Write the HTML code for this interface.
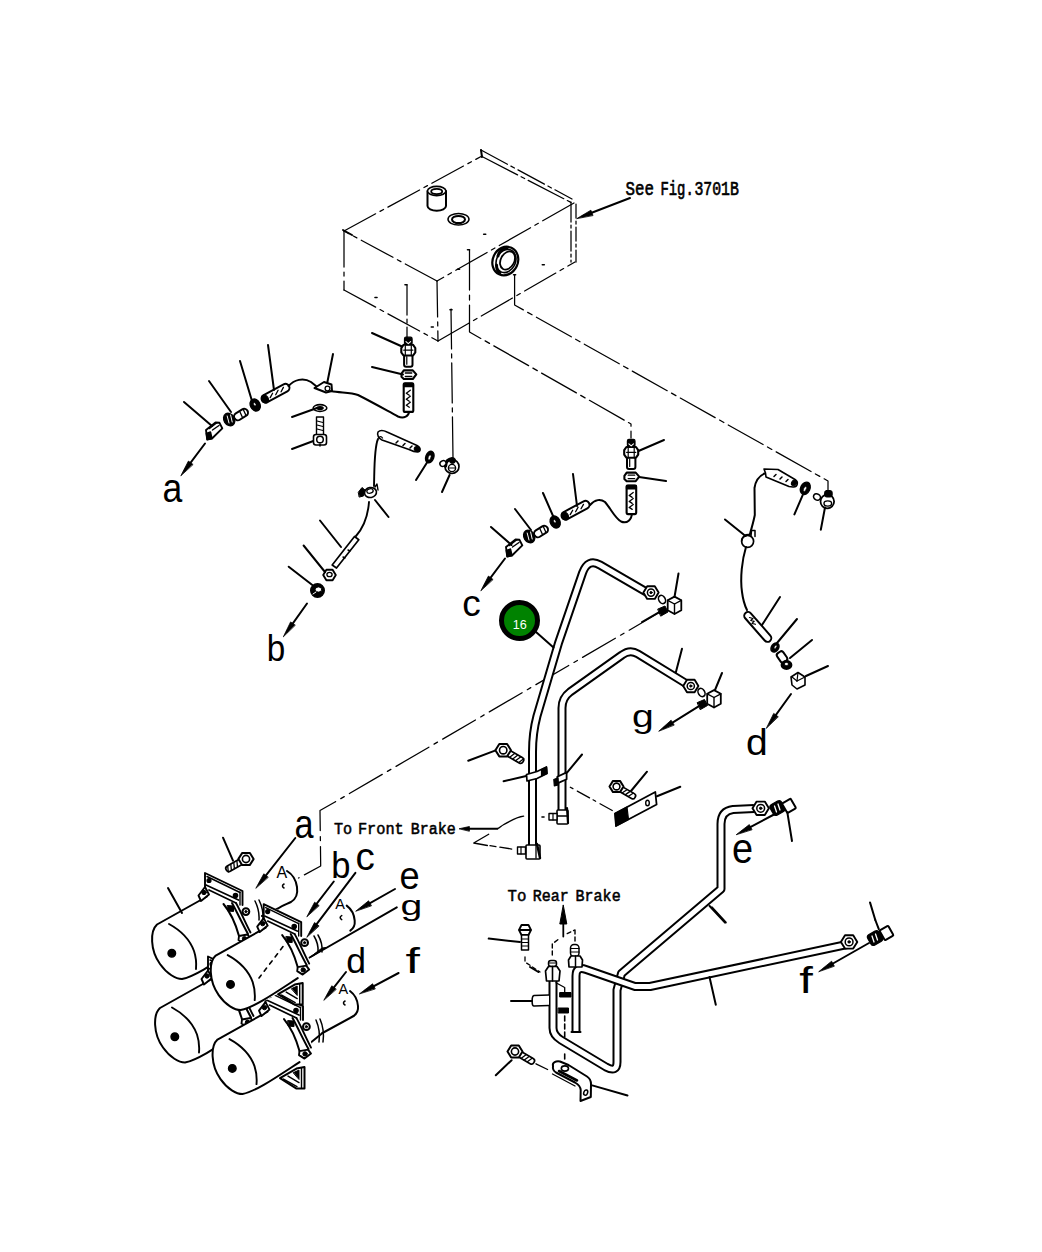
<!DOCTYPE html>
<html><head><meta charset="utf-8"><title>Parts diagram</title>
<style>
html,body{margin:0;padding:0;background:#fff;}
body{width:1042px;height:1252px;overflow:hidden;font-family:"Liberation Sans",sans-serif;}
svg{display:block;}
</style></head><body>
<svg width="1042" height="1252" viewBox="0 0 1042 1252">
<rect width="1042" height="1252" fill="#fff"/>
<g stroke="#000" fill="none" stroke-linecap="round" stroke-linejoin="round">
<polyline points="344,231 482,156" stroke-width="1.25" stroke-dasharray="36 5 4 5"/>
<polyline points="481,150 572,199" stroke-width="1.25" stroke-dasharray="30 4 4 4"/>
<polyline points="482,156.5 574,204" stroke-width="1.25" stroke-dasharray="40 4 4 4"/>
<line x1="481" y1="150" x2="482" y2="157" stroke-width="2.0"/>
<polyline points="574,203 437,281" stroke-width="1.25" stroke-dasharray="36 5 4 5"/>
<polyline points="437,281 344,231" stroke-width="1.25" stroke-dasharray="36 5 4 5"/>
<line x1="343" y1="230" x2="352" y2="235" stroke-width="2.0"/>
<polyline points="344,231 344,290" stroke-width="1.25" stroke-dasharray="36 5 4 5"/>
<polyline points="437,281 438,341" stroke-width="1.25" stroke-dasharray="36 5 4 5"/>
<polyline points="571,202 571,262" stroke-width="1.25" stroke-dasharray="20 3 3 3"/>
<polyline points="576,204 576,262" stroke-width="1.25" stroke-dasharray="14 3 3 3"/>
<polyline points="344,290 438,341" stroke-width="1.25" stroke-dasharray="36 5 4 5"/>
<polyline points="438,341 575,262" stroke-width="1.25" stroke-dasharray="36 5 4 5"/>
<path d="M427.5,191 L427.5,206 A9.2,4.6 0 0 0 446,206 L446,191" fill="#fff" stroke-width="2.0" />
<ellipse cx="436.7" cy="191" rx="9.2" ry="4.6" transform="rotate(0 436.7 191)" fill="#fff" stroke-width="1.6"/>
<ellipse cx="436.7" cy="191.5" rx="5.5" ry="2.6" transform="rotate(0 436.7 191.5)" fill="none" stroke-width="1.8"/>
<ellipse cx="458.5" cy="219.3" rx="10.5" ry="5.8" transform="rotate(0 458.5 219.3)" fill="none" stroke-width="1.5"/>
<ellipse cx="458.5" cy="219.5" rx="6.5" ry="3.6" transform="rotate(0 458.5 219.5)" fill="none" stroke-width="2"/>
<ellipse cx="505.3" cy="261" rx="12.6" ry="14.6" transform="rotate(25 505.3 261)" fill="#fff" stroke-width="2.2"/>
<ellipse cx="506" cy="261" rx="9.5" ry="12" transform="rotate(25 506 261)" fill="none" stroke-width="1.6"/>
<ellipse cx="507.5" cy="260.5" rx="6.8" ry="9.6" transform="rotate(28 507.5 260.5)" fill="none" stroke-width="1.8"/>
<path d="M498,256 C499,251 503,248 507,248.5" fill="none" stroke-width="3" />
<path d="M496.5,265 C496.5,269 498,271.5 500,272.5" fill="none" stroke-width="3" />
<line x1="483.7" y1="234.3" x2="485.7" y2="234.3" stroke-width="1.6"/>
<line x1="467.5" y1="249.8" x2="469.5" y2="249.8" stroke-width="1.6"/>
<line x1="457.5" y1="269.2" x2="459.5" y2="269.2" stroke-width="1.6"/>
<line x1="542.3" y1="264.7" x2="544.3" y2="264.7" stroke-width="1.6"/>
<line x1="513.6" y1="274.7" x2="515.6" y2="274.7" stroke-width="1.6"/>
<line x1="405" y1="284.7" x2="407" y2="284.7" stroke-width="1.6"/>
<line x1="375" y1="297.5" x2="377" y2="297.5" stroke-width="1.6"/>
<line x1="450" y1="309.7" x2="452" y2="309.7" stroke-width="1.6"/>
<line x1="431.3" y1="327" x2="433.3" y2="327" stroke-width="1.6"/>
<line x1="630" y1="198" x2="582.6" y2="216.3" stroke-width="2.0"/>
<polygon points="577,218.5 590.9,210.2 592.9,215.2" fill="#000" stroke-width="0.8" />
<polyline points="407,285 407,339" stroke-width="1.25" stroke-dasharray="30 4 4 4"/>
<polyline points="451,309 453,458" stroke-width="1.25" stroke-dasharray="40 5 4 5"/>
<polyline points="469.5,250 469.5,332 631,424 631,438" stroke-width="1.25" stroke-dasharray="40 5 5 5"/>
<polyline points="514.6,275 514.6,305 828,481 828,492" stroke-width="1.25" stroke-dasharray="40 5 5 5"/>
<g transform="translate(0 0)">
<polygon points="206,430 215.5,422.5 219.5,422.8 222.3,428.4 212,438.5 207.2,439.5" fill="#fff" stroke-width="1.9" />
<line x1="209.5" y1="428.5" x2="216.5" y2="423" stroke-width="1.4"/>
<line x1="212.5" y1="430" x2="219" y2="425.5" stroke-width="1.4"/>
<polygon points="206.3,433.5 210.5,432 212,438.5 207.2,439.5" fill="#000" stroke-width="1.4" />
<rect x="233.5" y="410.8" width="15" height="7.5" rx="3.7" transform="rotate(-32 241 414.5)" fill="#fff" stroke-width="2.0"/>
<line x1="240" y1="412" x2="242.5" y2="417.5" stroke-width="1.3"/>
<line x1="243.5" y1="410" x2="246" y2="415.5" stroke-width="1.3"/>
<ellipse cx="229.2" cy="419.5" rx="5.2" ry="6.6" transform="rotate(-32 229.2 419.5)" fill="#000" stroke-width="1.4"/>
<line x1="228" y1="414.5" x2="230.5" y2="424" stroke-width="1.2"/>
<line x1="227.2" y1="416" x2="229" y2="423" stroke="#fff" stroke-width="1"/>
<line x1="230.6" y1="415" x2="232.2" y2="422" stroke="#fff" stroke-width="1"/>
<ellipse cx="255.2" cy="405" rx="4.8" ry="6.3" transform="rotate(-25 255.2 405)" fill="#000" stroke-width="1.4"/>
<ellipse cx="254.8" cy="404.2" rx="1.1" ry="1.6" transform="rotate(-25 254.8 404.2)" fill="#fff" stroke-width="0.5"/>
</g>
<rect x="260.2" y="389.2" width="30.6" height="8" rx="4" transform="rotate(-28.2 275.5 393.2)" fill="#fff" stroke-width="2.0"/>
<ellipse cx="265" cy="399" rx="3.2" ry="4.2" transform="rotate(-30 265 399)" fill="#000" stroke-width="1.2"/>
<line x1="270.2" y1="397.6" x2="272.6" y2="393.2" stroke-width="1.3"/>
<line x1="275.7" y1="394.7" x2="278.1" y2="390.3" stroke-width="1.3"/>
<line x1="281.1" y1="391.8" x2="283.4" y2="387.4" stroke-width="1.3"/>
<line x1="184" y1="402" x2="212" y2="426" stroke-width="2.0"/>
<line x1="209" y1="381" x2="231" y2="412" stroke-width="2.0"/>
<line x1="240" y1="361" x2="252" y2="401" stroke-width="2.0"/>
<line x1="268" y1="345" x2="274" y2="390" stroke-width="2.0"/>
<line x1="333" y1="354" x2="327" y2="384" stroke-width="2.0"/>
<line x1="292" y1="417" x2="317" y2="408" stroke-width="2.0"/>
<line x1="292" y1="449" x2="316" y2="440" stroke-width="2.0"/>
<line x1="205" y1="443.5" x2="184.6" y2="470.7" stroke-width="2.0"/>
<polygon points="181,475.5 188.4,461.1 192.8,464.3" fill="#000" stroke-width="0.8" />
<path d="M288.5,386 C294,380 303,377 311,382 L316,386" fill="none" stroke-width="2.0" />
<polygon points="314.5,388 324,382 331.5,384.5 332,391 326,392.5" fill="#fff" stroke-width="2.0" />
<circle cx="327.5" cy="388.5" r="2.4" fill="none" stroke-width="1.3"/>
<path d="M331,391 C340,393 350,392 358,395 C372,402 386,410 398,416.5 C404,419 409,416 409,411.5" fill="none" stroke-width="2.0" />
<ellipse cx="320" cy="408" rx="6.8" ry="3.4" transform="rotate(0 320 408)" fill="none" stroke-width="1.6"/>
<ellipse cx="320" cy="408" rx="3.2" ry="1.5" transform="rotate(0 320 408)" fill="#000" stroke-width="1.2"/>
<rect x="316.5" y="417" width="7" height="18" fill="#fff" stroke-width="1.4"/>
<line x1="317" y1="421" x2="323" y2="422.5" stroke-width="1.2"/>
<line x1="317" y1="425" x2="323" y2="426.5" stroke-width="1.2"/>
<line x1="317" y1="429" x2="323" y2="430.5" stroke-width="1.2"/>
<rect x="313.5" y="434.5" width="13" height="10.5" rx="2.5" fill="#fff" stroke-width="1.6"/>
<circle cx="320" cy="439.5" r="3.3" fill="none" stroke-width="1.5"/>
<line x1="320" y1="444" x2="320" y2="446" stroke-width="1.5"/>
<rect x="403.7" y="383.4" width="9.6" height="28.5" rx="1.5" fill="#fff" stroke-width="2.1"/>
<rect x="403.7" y="383.4" width="9.6" height="3.2" fill="#000" stroke-width="1.5"/>
<path d="M406.3,393.2 l4,-3 M406.3,393.2 l3,2" fill="none" stroke-width="1.3" />
<path d="M406.3,399.2 l4,-3 M406.3,399.2 l3,2" fill="none" stroke-width="1.3" />
<path d="M406.3,405.2 l4,-3 M406.3,405.2 l3,2" fill="none" stroke-width="1.3" />
<polygon points="401.5,373.7 403.8,370.4 412.8,370.4 416.3,374.4 412.8,379 403.8,379 401.5,376.7" fill="#fff" stroke-width="2.1" />
<line x1="405.3" y1="373" x2="411.8" y2="373" stroke-width="1.3"/>
<line x1="405.3" y1="376.5" x2="411.8" y2="376.5" stroke-width="1.3"/>
<rect x="404.1" y="354.7" width="8.4" height="12" rx="2" fill="#fff" stroke-width="2"/>
<line x1="406.8" y1="356.7" x2="406.8" y2="364.2" stroke-width="1.2"/>
<polygon points="401.3,348 403.5,344.8 413.1,344.8 415.3,348 415.3,352.4 413.1,355.5 403.5,355.5 401.3,352.4" fill="#fff" stroke-width="2.1" />
<line x1="403.8" y1="350.2" x2="412.8" y2="350.2" stroke-width="1.3"/>
<line x1="405.3" y1="345.7" x2="405.3" y2="354.7" stroke-width="1.2"/>
<line x1="411.3" y1="345.7" x2="411.3" y2="354.7" stroke-width="1.2"/>
<rect x="404.5" y="337.2" width="7.6" height="7.4" rx="1.5" fill="#000" stroke-width="1.2"/>
<path d="M406.0,341.7 l2.3,2 l2.3,-2" fill="none" stroke="#fff" stroke-width="1.1"/>
<line x1="372" y1="333" x2="402" y2="346.5" stroke-width="2.0"/>
<line x1="372" y1="367" x2="403" y2="374.5" stroke-width="2.0"/>
<path d="M378,432 C380,430 384,430.5 387,432 L417,445.5 C421,447.5 421,452 417.5,452 C414,452 411,450.5 409,449.5 L382,440 C379,438.5 376.5,435 378,432 Z" fill="#fff" stroke-width="1.6" />
<path d="M378.5,438 C380,436 381.5,436.5 382.5,438" fill="none" stroke-width="1.3" />
<path d="M396,443 l2,-2 M403,445.5 l2,-2 M410,448 l2,-2" fill="none" stroke-width="1.5" />
<ellipse cx="417" cy="449" rx="2.8" ry="2.4" transform="rotate(20 417 449)" fill="#000" stroke-width="1"/>
<path d="M378,439 C374,448 374.5,470 374,486" fill="none" stroke-width="1.9" />
<ellipse cx="370.5" cy="492.5" rx="6" ry="5" transform="rotate(-10 370.5 492.5)" fill="#fff" stroke-width="1.6"/>
<ellipse cx="370" cy="491" rx="3.2" ry="2.2" transform="rotate(-10 370 491)" fill="none" stroke-width="1.3"/>
<polygon points="358.5,492 362,487.5 365,490 363.5,496 359.5,497" fill="#000" stroke-width="1" />
<path d="M375,487 l2,-3 l1,6" fill="none" stroke-width="1.4" />
<path d="M369,502 C368,515 364,527 356,536" fill="none" stroke-width="1.9" />
<polygon points="354.5,536.5 358.8,539.7 336.5,568 332.2,565" fill="#fff" stroke-width="1.7" />
<path d="M343,557 l2,1 M348,550 l2,1" fill="none" stroke-width="1.4" />
<polygon points="335.8,575 332.6,580.2 326.4,580.2 323.2,575 326.4,569.8 332.6,569.8" fill="#fff" stroke-width="1.9" />
<ellipse cx="329.5" cy="574.5" rx="2.6" ry="2.2" transform="rotate(0 329.5 574.5)" fill="none" stroke-width="1.3"/>
<circle cx="317.5" cy="590.5" r="6.8" fill="#000" stroke-width="1.4"/>
<ellipse cx="318.5" cy="589.5" rx="3.3" ry="2.6" transform="rotate(0 318.5 589.5)" fill="#fff" stroke-width="1.0"/>
<line x1="313" y1="594" x2="316" y2="592" stroke="#fff" stroke-width="1"/>
<line x1="307" y1="603.5" x2="287" y2="631.6" stroke-width="2.0"/>
<polygon points="283.5,636.5 290.6,621.9 295,625" fill="#000" stroke-width="0.8" />
<line x1="288.7" y1="566.7" x2="313.6" y2="586" stroke-width="2.0"/>
<line x1="303.6" y1="545.5" x2="325" y2="572" stroke-width="2.0"/>
<line x1="320" y1="520.5" x2="341" y2="547" stroke-width="2.0"/>
<line x1="375" y1="500" x2="388.5" y2="517" stroke-width="2.0"/>
<line x1="428" y1="461" x2="416" y2="480" stroke-width="2.0"/>
<line x1="449.6" y1="475" x2="442" y2="492" stroke-width="2.0"/>
<ellipse cx="429.8" cy="457" rx="4" ry="6" transform="rotate(20 429.8 457)" fill="#000" stroke-width="1.4"/>
<ellipse cx="429.6" cy="457.5" rx="1.3" ry="2.6" transform="rotate(20 429.6 457.5)" fill="#fff" stroke-width="0.5"/>
<circle cx="452" cy="466.5" r="7" fill="#fff" stroke-width="1.7"/>
<circle cx="452" cy="468" r="3.6" fill="none" stroke-width="1.4"/>
<path d="M445.5,466 C445.5,461 449,459 452.5,459" fill="none" stroke-width="3.4" />
<circle cx="452.5" cy="460.5" r="3" fill="#000" stroke-width="1"/>
<ellipse cx="443" cy="463.5" rx="3.2" ry="2.7" transform="rotate(-30 443 463.5)" fill="#fff" stroke-width="1.5"/>
<line x1="449" y1="468" x2="455" y2="468" stroke-width="1.2"/>
<g transform="translate(300 117)">
<polygon points="206,430 215.5,422.5 219.5,422.8 222.3,428.4 212,438.5 207.2,439.5" fill="#fff" stroke-width="1.9" />
<line x1="209.5" y1="428.5" x2="216.5" y2="423" stroke-width="1.4"/>
<line x1="212.5" y1="430" x2="219" y2="425.5" stroke-width="1.4"/>
<polygon points="206.3,433.5 210.5,432 212,438.5 207.2,439.5" fill="#000" stroke-width="1.4" />
<rect x="233.5" y="410.8" width="15" height="7.5" rx="3.7" transform="rotate(-32 241 414.5)" fill="#fff" stroke-width="2.0"/>
<line x1="240" y1="412" x2="242.5" y2="417.5" stroke-width="1.3"/>
<line x1="243.5" y1="410" x2="246" y2="415.5" stroke-width="1.3"/>
<ellipse cx="229.2" cy="419.5" rx="5.2" ry="6.6" transform="rotate(-32 229.2 419.5)" fill="#000" stroke-width="1.4"/>
<line x1="228" y1="414.5" x2="230.5" y2="424" stroke-width="1.2"/>
<line x1="227.2" y1="416" x2="229" y2="423" stroke="#fff" stroke-width="1"/>
<line x1="230.6" y1="415" x2="232.2" y2="422" stroke="#fff" stroke-width="1"/>
<ellipse cx="255.2" cy="405" rx="4.8" ry="6.3" transform="rotate(-25 255.2 405)" fill="#000" stroke-width="1.4"/>
<ellipse cx="254.8" cy="404.2" rx="1.1" ry="1.6" transform="rotate(-25 254.8 404.2)" fill="#fff" stroke-width="0.5"/>
</g>
<rect x="560.2" y="506.2" width="30.6" height="8" rx="4" transform="rotate(-28.2 575.5 510.2)" fill="#fff" stroke-width="2.0"/>
<ellipse cx="565" cy="516" rx="3.2" ry="4.2" transform="rotate(-30 565 516)" fill="#000" stroke-width="1.2"/>
<line x1="570.2" y1="514.6" x2="572.7" y2="510.2" stroke-width="1.3"/>
<line x1="575.6" y1="511.7" x2="578.1" y2="507.3" stroke-width="1.3"/>
<line x1="581" y1="508.8" x2="583.5" y2="504.4" stroke-width="1.3"/>
<line x1="491" y1="527" x2="511.5" y2="545" stroke-width="2.0"/>
<line x1="515" y1="509" x2="531" y2="530" stroke-width="2.0"/>
<line x1="543" y1="493" x2="553.5" y2="517" stroke-width="2.0"/>
<line x1="573" y1="474" x2="577" y2="506" stroke-width="2.0"/>
<line x1="505" y1="558.5" x2="484.6" y2="585.7" stroke-width="2.0"/>
<polygon points="481,590.5 488.4,576.1 492.8,579.3" fill="#000" stroke-width="0.8" />
<path d="M590,505 C595,499 601,499 605,502 C611,509 615,518 621,521.5 C627,524 632,520 632,512" fill="none" stroke-width="2.0" />
<rect x="626.6" y="485.6" width="9.6" height="28.5" rx="1.5" fill="#fff" stroke-width="2.1"/>
<rect x="626.6" y="485.6" width="9.6" height="3.2" fill="#000" stroke-width="1.5"/>
<path d="M629.2,495.4 l4,-3 M629.2,495.4 l3,2" fill="none" stroke-width="1.3" />
<path d="M629.2,501.4 l4,-3 M629.2,501.4 l3,2" fill="none" stroke-width="1.3" />
<path d="M629.2,507.4 l4,-3 M629.2,507.4 l3,2" fill="none" stroke-width="1.3" />
<polygon points="624.4,475.9 626.7,472.6 635.7,472.6 639.2,476.6 635.7,481.2 626.7,481.2 624.4,478.9" fill="#fff" stroke-width="2.1" />
<line x1="628.2" y1="475.2" x2="634.7" y2="475.2" stroke-width="1.3"/>
<line x1="628.2" y1="478.7" x2="634.7" y2="478.7" stroke-width="1.3"/>
<rect x="627.0" y="456.9" width="8.4" height="12" rx="2" fill="#fff" stroke-width="2"/>
<line x1="629.7" y1="458.9" x2="629.7" y2="466.4" stroke-width="1.2"/>
<polygon points="624.2,450.2 626.4,447 636,447 638.2,450.2 638.2,454.6 636,457.7 626.4,457.7 624.2,454.6" fill="#fff" stroke-width="2.1" />
<line x1="626.7" y1="452.4" x2="635.7" y2="452.4" stroke-width="1.3"/>
<line x1="628.2" y1="447.9" x2="628.2" y2="456.9" stroke-width="1.2"/>
<line x1="634.2" y1="447.9" x2="634.2" y2="456.9" stroke-width="1.2"/>
<rect x="627.4" y="439.4" width="7.6" height="7.4" rx="1.5" fill="#000" stroke-width="1.2"/>
<path d="M628.9,443.9 l2.3,2 l2.3,-2" fill="none" stroke="#fff" stroke-width="1.1"/>
<line x1="638.5" y1="451" x2="664" y2="440" stroke-width="2.0"/>
<line x1="639" y1="477" x2="666" y2="481" stroke-width="2.0"/>
<ellipse cx="817" cy="497" rx="3.6" ry="3" transform="rotate(30 817 497)" fill="#fff" stroke-width="1.6"/>
<circle cx="827.3" cy="501.5" r="6.8" fill="#fff" stroke-width="1.8"/>
<ellipse cx="827.8" cy="503.5" rx="3.8" ry="2.6" transform="rotate(0 827.8 503.5)" fill="none" stroke-width="1.4"/>
<rect x="824.6" y="490.5" width="7.6" height="6.5" rx="2" fill="#000" stroke-width="1"/>
<ellipse cx="805.3" cy="488.3" rx="4.6" ry="6.4" transform="rotate(25 805.3 488.3)" fill="#000" stroke-width="1.4"/>
<ellipse cx="805" cy="489" rx="1.3" ry="2.6" transform="rotate(25 805 489)" fill="#fff" stroke-width="0.5"/>
<line x1="802.8" y1="494.8" x2="794.4" y2="514.4" stroke-width="2.0"/>
<line x1="825" y1="507.5" x2="820.8" y2="529.7" stroke-width="2.0"/>
<path d="M764,469 L778,469.5 L795,479.5 C799,482 797.5,487.5 793,487 L789,486.5 L766,477 L765.5,473 Z" fill="#fff" stroke-width="1.6" />
<path d="M774,476.5 l2,-2 M780,479 l2,-2 M786,481.5 l2,-2" fill="none" stroke-width="1.5" />
<ellipse cx="794" cy="483" rx="2.4" ry="3" transform="rotate(30 794 483)" fill="#000" stroke-width="1"/>
<path d="M764.5,473.5 C759,476 755.5,481 754.5,488 L754.8,515 C753.5,522 751.5,528 750,534" fill="none" stroke-width="2" />
<ellipse cx="747.6" cy="541.3" rx="6" ry="6" transform="rotate(0 747.6 541.3)" fill="#fff" stroke-width="1.7"/>
<path d="M741.8,541 C742,536 745,534 750,534.5" fill="none" stroke-width="1.4" />
<path d="M751,536 l0.5,-5.5 l3.5,0 l0,6" fill="none" stroke-width="1.5" />
<line x1="725" y1="519.5" x2="745.5" y2="536" stroke-width="2.0"/>
<path d="M746,547 C742,560 740,578 742,592 C743,600 745,606 747,610" fill="none" stroke-width="2.0" />
<rect x="739.1" y="623.2" width="37.2" height="7.5" rx="3.8" transform="rotate(48.8 757.8 627)" fill="#fff" stroke-width="2.0"/>
<g transform="translate(757.8 627) rotate(48.8)">
<path d="M-12.6,0 l3,-2 l0,3 l3,-2 l0,3 l3,-2" fill="none" stroke-width="1.2"/>
</g>
<line x1="762" y1="625" x2="780" y2="597" stroke-width="2.0"/>
<ellipse cx="775" cy="647.5" rx="3.5" ry="4.8" transform="rotate(35 775 647.5)" fill="#000" stroke-width="1.6"/>
<ellipse cx="775.5" cy="647" rx="1" ry="2" transform="rotate(35 775.5 647)" fill="#fff" stroke-width="0.6"/>
<line x1="777" y1="643" x2="797" y2="619" stroke-width="2.0"/>
<rect x="776.5" y="653.2" width="11" height="7.5" rx="2.5" transform="rotate(55 782 657)" fill="#fff" stroke-width="2.0"/>
<ellipse cx="786.5" cy="665" rx="5" ry="4" transform="rotate(0 786.5 665)" fill="#000" stroke-width="1.8"/>
<ellipse cx="786.5" cy="664" rx="2.2" ry="1.6" transform="rotate(0 786.5 664)" fill="#fff" stroke-width="0.8"/>
<line x1="790" y1="658" x2="812" y2="640" stroke-width="2.0"/>
<polygon points="791,677 798,672.5 805,677 805,685 797,689 792,685" fill="#fff" stroke-width="1.6" />
<line x1="798" y1="672.5" x2="797" y2="681" stroke-width="1.2"/>
<line x1="792" y1="677" x2="797" y2="681" stroke-width="1.2"/>
<line x1="797" y1="681" x2="805" y2="677" stroke-width="1.2"/>
<line x1="806" y1="676" x2="828" y2="666" stroke-width="2.0"/>
<line x1="791" y1="694" x2="770" y2="723.1" stroke-width="2.0"/>
<polygon points="766.5,728 773.7,713.4 778,716.6" fill="#000" stroke-width="0.8" />
<polyline points="662,611 335,802 320,810.5 320.7,866 298.5,878" stroke-width="1.25" stroke-dasharray="38 6 4 6"/>
<path d="M532.5,858 L532.5,752 Q532.5,733 537,716 L558.5,643 L582.5,573 Q588,558 600,565 L649,593.5" fill="none" stroke-width="9.0" stroke-linejoin="round" stroke-linecap="butt"/>
<path d="M532.5,858 L532.5,752 Q532.5,733 537,716 L558.5,643 L582.5,573 Q588,558 600,565 L649,593.5" fill="none" stroke="#fff" stroke-width="5.0" stroke-linejoin="round" stroke-linecap="butt"/>
<path d="M562,823 L562,708 Q562,698 570,692 L622,655 Q630,649 638,654 L686,683.5" fill="none" stroke-width="9.0" stroke-linejoin="round" stroke-linecap="butt"/>
<path d="M562,823 L562,708 Q562,698 570,692 L622,655 Q630,649 638,654 L686,683.5" fill="none" stroke="#fff" stroke-width="5.0" stroke-linejoin="round" stroke-linecap="butt"/>
<polygon points="658.6,592.6 654.8,598.9 647.2,598.9 643.4,592.6 647.2,586.3 654.8,586.3" fill="#fff" stroke-width="1.9" />
<circle cx="651" cy="592.6" r="3.6" fill="none" stroke-width="1.5"/>
<circle cx="651" cy="592.6" r="1.1" fill="#000" stroke-width="1.0"/>
<ellipse cx="662" cy="599.5" rx="3.2" ry="4.4" transform="rotate(-30 662 599.5)" fill="#fff" stroke-width="1.6"/>
<polygon points="674.5,596.6 681.3,600.3 681.3,610.3 674.5,614 667.7,610.3 667.7,600.3" fill="#fff" stroke-width="1.8" />
<polyline points="667.7,600.3 674.5,604 681.3,600.3" stroke-width="1.4" />
<line x1="674.5" y1="604" x2="674.5" y2="614" stroke-width="1.4"/>
<polygon points="658,609 665,606 668,612 661,616" fill="#000" stroke-width="1" />
<line x1="678.5" y1="573.5" x2="674.5" y2="597" stroke-width="2.0"/>
<line x1="642" y1="622" x2="661" y2="611" stroke-width="2.0"/>
<line x1="536" y1="632" x2="553.5" y2="647.5" stroke-width="2.0"/>
<circle cx="519.5" cy="620.5" r="18" fill="#008200" stroke="#000" stroke-width="5"/>
<text x="519.8" y="629" font-family="Liberation Sans" font-size="12.6" fill="#fff" stroke="none" text-anchor="middle">16</text>
<polygon points="698.4,686 694.6,692.3 687,692.3 683.2,686 687,679.7 694.6,679.7" fill="#fff" stroke-width="1.9" />
<circle cx="690.8" cy="686" r="3.6" fill="none" stroke-width="1.5"/>
<circle cx="690.8" cy="686" r="1.1" fill="#000" stroke-width="1.0"/>
<ellipse cx="701.5" cy="692.5" rx="3.2" ry="4.4" transform="rotate(-30 701.5 692.5)" fill="#fff" stroke-width="1.6"/>
<polygon points="714,690.1 720.8,693.8 720.8,703.8 714,707.5 707.2,703.8 707.2,693.8" fill="#fff" stroke-width="1.8" />
<polyline points="707.2,693.8 714,697.5 720.8,693.8" stroke-width="1.4" />
<line x1="714" y1="697.5" x2="714" y2="707.5" stroke-width="1.4"/>
<polygon points="697.5,702.5 704.5,699.5 707.5,705.5 700.5,709.5" fill="#000" stroke-width="1" />
<line x1="682" y1="648.7" x2="675.8" y2="672.4" stroke-width="2.0"/>
<line x1="722" y1="673" x2="715" y2="690" stroke-width="2.0"/>
<line x1="703.4" y1="703.3" x2="664.1" y2="727.8" stroke-width="2.0"/>
<polygon points="659,731 671.1,720.2 674,724.8" fill="#000" stroke-width="0.8" />
<rect x="505.3" y="753.8" width="19.1" height="6.2" rx="2.8" transform="rotate(29.8 514.9 756.9)" fill="#fff" stroke-width="1.7"/>
<line x1="509.7" y1="757.2" x2="514.6" y2="753.5" stroke-width="1.3"/>
<line x1="512.7" y1="758.9" x2="517.6" y2="755.2" stroke-width="1.3"/>
<line x1="515.8" y1="760.6" x2="520.6" y2="757.0" stroke-width="1.3"/>
<line x1="518.8" y1="762.4" x2="523.7" y2="758.7" stroke-width="1.3"/>
<polygon points="507.1,756.4 499.3,756.4 495.4,750.2 499.3,744 507.1,744 511,750.2" fill="#fff" stroke-width="2.0" />
<circle cx="503.2" cy="750.2" r="3.7" fill="none" stroke-width="1.6"/>
<line x1="468.2" y1="760.7" x2="495" y2="750.6" stroke-width="2.0"/>
<polygon points="526.5,774.5 537,771.5 546.5,767 547,773.5 537,778.5 527,781" fill="#fff" stroke-width="1.7" />
<polygon points="541.5,769.5 546.5,767 547,773.5 541.5,776" fill="#000" stroke-width="1.2" />
<line x1="503.6" y1="781.3" x2="526.2" y2="776" stroke-width="2.0"/>
<polygon points="557.3,776.8 566.6,772.4 566.6,779.2 557.3,783.4" fill="#fff" stroke-width="1.8" />
<polygon points="553.8,779.5 558,777.8 558.5,785 554.3,785.8" fill="#000" stroke-width="1.2" />
<line x1="582" y1="754.5" x2="567.2" y2="772.4" stroke-width="2.0"/>
<polyline points="570.3,787.2 615,812" stroke-width="1.25" stroke-dasharray="3 5 14 4"/>
<polygon points="615,813.5 655.3,792 656.6,804.5 616,826" fill="#fff" stroke-width="1.8" />
<polygon points="615,813.5 627,807 628.5,819.5 616,826" fill="#000" stroke-width="1.2" />
<ellipse cx="647.5" cy="803" rx="1.8" ry="2.8" transform="rotate(0 647.5 803)" fill="none" stroke-width="1.4"/>
<line x1="680.3" y1="786.8" x2="657" y2="796.3" stroke-width="2.0"/>
<rect x="618.3" y="790.0" width="18.0" height="5.6" rx="2.5" transform="rotate(30.0 627.3 792.8)" fill="#fff" stroke-width="1.7"/>
<line x1="622.4" y1="792.8" x2="627.0" y2="789.7" stroke-width="1.3"/>
<line x1="625.5" y1="794.6" x2="630.1" y2="791.4" stroke-width="1.3"/>
<line x1="628.5" y1="796.3" x2="633.1" y2="793.2" stroke-width="1.3"/>
<polygon points="620,792.1 613,792.1 609.5,786.5 613,780.9 620,780.9 623.5,786.5" fill="#fff" stroke-width="2.0" />
<circle cx="616.5" cy="786.5" r="3.4" fill="none" stroke-width="1.6"/>
<line x1="647" y1="771.7" x2="631" y2="791" stroke-width="2.0"/>
<rect x="526" y="845" width="14" height="14" rx="1" fill="#fff" stroke-width="1.6"/>
<line x1="536" y1="845" x2="536" y2="858" stroke-width="1.3"/>
<line x1="537" y1="844" x2="540" y2="858" stroke-width="2.4"/>
<rect x="517.5" y="847" width="8" height="7" fill="#fff" stroke-width="1.4"/>
<line x1="521" y1="847" x2="521" y2="854" stroke-width="1.2"/>
<rect x="557" y="810" width="11" height="14" rx="1" fill="#fff" stroke-width="1.6"/>
<line x1="557" y1="816" x2="568" y2="816" stroke-width="1.3"/>
<line x1="567" y1="808" x2="568" y2="823" stroke-width="2.2"/>
<rect x="549" y="813.5" width="8" height="6.5" fill="#fff" stroke-width="1.4"/>
<line x1="553" y1="813.5" x2="553" y2="820" stroke-width="1.2"/>
<line x1="542" y1="817" x2="544" y2="817" stroke-width="1.6"/>
<line x1="497.4" y1="828.7" x2="465.4" y2="828.7" stroke-width="2.0"/>
<polygon points="459.4,828.7 469.4,826.5 469.4,830.9" fill="#000" stroke-width="0.8" />
<path d="M497.4,828.7 C500,828 501,826 503,825 C510,821 517,817 523.6,816.2" fill="none" stroke-width="1.3" />
<path d="M488.7,834.3 L473.7,843 L487.4,845.5" fill="none" stroke-width="1.3" />
<polyline points="490,845.7 513.6,849.3" stroke-width="1.3" stroke-dasharray="6 4 12 4"/>
<g transform="translate(0 0)">
<path d="M276,869 C285,868 293,877 296.5,887 C298,894 296,900 290,903 L279,908 L262,915 L259,895 Z" fill="#fff" stroke-width="0" stroke="none"/>
<path d="M287,871 C292,874 296,880 297,887 C298,894 296,899 291,902 C287,904 282,905.5 278,908.5 L262,916" fill="none" stroke-width="2.0" />
<text x="276.5" y="878" font-family="Liberation Sans" font-size="16" fill="#000" stroke="none">A</text>
<path d="M284,884 c-2,1 -2,3 0,4" fill="none" stroke-width="1.6" />
</g>
<g transform="translate(-3.3 -85.4)">
<path d="M340,990 C348,988 356,996 358,1006 C358.5,1011 356.5,1014 353.6,1016 L322,1033 L318,1012 Z" fill="#fff" stroke-width="0" stroke="none"/>
<path d="M350,991 C354,994 357.5,1000 358,1006 C358.5,1011 356.5,1014 353.6,1016" fill="none" stroke-width="2.0" />
<text x="338.5" y="994" font-family="Liberation Sans" font-size="14.5" fill="#000" stroke="none">A</text>
<path d="M345,1001 c-2,1 -2,3 0,4" fill="none" stroke-width="1.6" />
</g>
<g transform="translate(0 0)">
<path d="M340,990 C348,988 356,996 358,1006 C358.5,1011 356.5,1014 353.6,1016 L322,1033 L318,1012 Z" fill="#fff" stroke-width="0" stroke="none"/>
<path d="M350,991 C354,994 357.5,1000 358,1006 C358.5,1011 356.5,1014 353.6,1016" fill="none" stroke-width="2.0" />
<text x="338.5" y="994" font-family="Liberation Sans" font-size="14.5" fill="#000" stroke="none">A</text>
<path d="M345,1001 c-2,1 -2,3 0,4" fill="none" stroke-width="1.6" />
</g>
<line x1="353.6" y1="1016" x2="322.5" y2="1033" stroke-width="2.0"/>
<line x1="322.5" y1="1033" x2="309.6" y2="1043.6" stroke-width="2.0"/>
<g id="f1">
<path d="M207,896 L157,924.5 C150,931 150,950 160,964 C167,974 176,979 182,979 C196,976 210,967 219.5,963 L236,973.5 L244,973.5 L244,952 L252.5,938 L246,900 L243,890 L205,872 L205,887 Z" fill="#fff" stroke-width="0" stroke="none"/>
<path d="M207,896.5 L157,924.5 C150,931 150,950 160,964 C167,974 176,979 182,979 C196,976 216,962 239,947" fill="none" stroke-width="2.0" />
<path d="M169,924 C180,930 190,940 194,951 C196,957 196.5,963 196,969" fill="none" stroke-width="1.9" />
<circle cx="171.8" cy="953.3" r="3.8" fill="#000" stroke-width="1.4"/>
<path d="M223.5,904 C231,913 236,925 239,936" fill="none" stroke-width="2.0" />
<path d="M205,888 L205,873 L242.5,891 L242.5,905" fill="#fff" stroke-width="1.9" />
<line x1="207" y1="876.5" x2="240" y2="892.5" stroke-width="1.5"/>
<line x1="206" y1="885" x2="238.5" y2="900" stroke-width="1.7"/>
<line x1="209" y1="890" x2="236" y2="903" stroke-width="1.7"/>
<line x1="240" y1="892" x2="240" y2="905" stroke-width="1.4"/>
<circle cx="209" cy="880.5" r="2" fill="#000" stroke-width="1.2"/>
<circle cx="235.5" cy="895.5" r="2.2" fill="#000" stroke-width="1.2"/>
<path d="M205,887 L198.5,895.5 L201,901 L209,894.5 Z" fill="#fff" stroke-width="1.9" />
<circle cx="204" cy="892.5" r="2.2" fill="#000" stroke-width="1"/>
<path d="M232,903 C237,912 242,923 248,934" fill="none" stroke-width="2.0" />
<path d="M236,903 C241,912 245,922 250.5,932.5" fill="none" stroke-width="1.9" />
<path d="M239,936 L247.5,934.5 L250.5,938.5 L244,943.5 L238.5,940 Z" fill="#fff" stroke-width="1.9" />
<circle cx="244.5" cy="938.8" r="2.2" fill="#000" stroke-width="1"/>
<circle cx="245.9" cy="911.6" r="3.4" fill="#fff" stroke-width="2.0"/>
<circle cx="245.9" cy="911.6" r="1.1" fill="#000" stroke-width="1"/>
<path d="M227.5,905.5 L233.5,906 L233.5,911.5 L228,911 Z" fill="#000" stroke-width="1" />
<path d="M219.5,963 L236,953.5 L244,952 L244,973.5 L236,973.5 Z" fill="#fff" stroke-width="2.0" />
<line x1="241" y1="953" x2="241" y2="973" stroke-width="1.4"/>
<line x1="223" y1="964" x2="236.5" y2="971.5" stroke-width="1.4"/>
<line x1="227.5" y1="961" x2="238.5" y2="967.5" stroke-width="1.4"/>
<path d="M233,957.5 L238.5,955 L238.5,964 Z" fill="#000" stroke-width="1" />
</g>
<use href="#f1" transform="translate(3 83.5)"/>
<use href="#f1" transform="translate(60.5 115.1)"/>
<use href="#f1" transform="translate(58.7 31.1)"/>
<polyline points="283,946.6 259,978" stroke-width="1.6" stroke-dasharray="4 5"/>
<path d="M314,936 C317,941 318.5,946 318,952" fill="none" stroke-width="1.5" />
<path d="M318,935 C321,940 322.5,946 322,952" fill="none" stroke-width="1.5" />
<path d="M316,1020 C319,1027 320,1035 319,1042" fill="none" stroke-width="1.5" />
<path d="M320,1019 C323,1026 324,1035 323,1042" fill="none" stroke-width="1.5" />
<path d="M255,901 C258,907 259.5,913 259,920" fill="none" stroke-width="1.5" />
<path d="M259,900 C262,906 263.5,913 263,920" fill="none" stroke-width="1.5" />
<rect x="225.2" y="862.4" width="18.7" height="6.1" rx="2.8" transform="rotate(150.8 234.5 865.4)" fill="#fff" stroke-width="1.7"/>
<line x1="236.9" y1="861.0" x2="237.5" y2="866.9" stroke-width="1.3"/>
<line x1="233.8" y1="862.7" x2="234.4" y2="868.6" stroke-width="1.3"/>
<line x1="230.8" y1="864.4" x2="231.4" y2="870.3" stroke-width="1.3"/>
<line x1="227.7" y1="866.1" x2="228.3" y2="872.0" stroke-width="1.3"/>
<polygon points="238.4,858.9 242.3,852.9 249.9,853 253.6,859.1 249.7,865.1 242.1,865" fill="#fff" stroke-width="2.0" />
<circle cx="246" cy="859" r="3.6" fill="none" stroke-width="1.6"/>
<line x1="223" y1="837.7" x2="233" y2="860.7" stroke-width="2.0"/>
<line x1="168" y1="888" x2="182" y2="913" stroke-width="2.0"/>
<path d="M754,808.6 L733,809.5 Q721,811 721,824 L721,889 L621.5,973.5 L617,990 L617,1062 Q617,1073 606,1067 L561,1040 Q553,1035 553,1028 L553,980" fill="none" stroke-width="9.0" stroke-linejoin="round" stroke-linecap="butt"/>
<path d="M754,808.6 L733,809.5 Q721,811 721,824 L721,889 L621.5,973.5 L617,990 L617,1062 Q617,1073 606,1067 L561,1040 Q553,1035 553,1028 L553,980" fill="none" stroke="#fff" stroke-width="5.0" stroke-linejoin="round" stroke-linecap="butt"/>
<path d="M847,944.5 L650,986.5 L635,986.5 L586,969.5 Q576,966 576,976 L576,1032" fill="none" stroke-width="9.0" stroke-linejoin="round" stroke-linecap="butt"/>
<path d="M847,944.5 L650,986.5 L635,986.5 L586,969.5 Q576,966 576,976 L576,1032" fill="none" stroke="#fff" stroke-width="5.0" stroke-linejoin="round" stroke-linecap="butt"/>
<line x1="571.5" y1="1032" x2="580.5" y2="1032" stroke-width="2"/>
<polygon points="768.9,808.3 764.8,815 756.6,815 752.5,808.3 756.6,801.6 764.8,801.6" fill="#fff" stroke-width="1.9" />
<circle cx="760.7" cy="808.3" r="3.9" fill="none" stroke-width="1.5"/>
<circle cx="760.7" cy="808.3" r="1.2" fill="#000" stroke-width="1.0"/>
<rect x="771.0" y="802.0" width="13" height="12" rx="3" transform="rotate(-30 777.5 808.0)" fill="#000" stroke-width="1.2"/>
<line x1="774.5" y1="806.0" x2="776.5" y2="812.0" stroke="#fff" stroke-width="1.3"/>
<line x1="778.0" y1="804.0" x2="780.0" y2="810.0" stroke="#fff" stroke-width="1.3"/>
<rect x="784.0" y="800.3" width="10" height="11" rx="1" transform="rotate(-30 789.0 805.8)" fill="#fff" stroke-width="2"/>
<line x1="787.3" y1="812.2" x2="792" y2="841" stroke-width="2.0"/>
<line x1="774" y1="814.5" x2="741.8" y2="831.7" stroke-width="2.0"/>
<polygon points="736.5,834.5 749.3,824.6 751.9,829.4" fill="#000" stroke-width="0.8" />
<line x1="709.6" y1="906" x2="725" y2="922.6" stroke-width="2.0"/>
<line x1="712" y1="907.4" x2="725.8" y2="922.4" stroke-width="2.0"/>
<polygon points="857.3,941.9 853.2,948.6 845,948.6 840.9,941.9 845,935.2 853.2,935.2" fill="#fff" stroke-width="1.9" />
<circle cx="849.1" cy="941.9" r="3.9" fill="none" stroke-width="1.5"/>
<circle cx="849.1" cy="941.9" r="1.2" fill="#000" stroke-width="1.0"/>
<rect x="868.5" y="932.0" width="13" height="12" rx="3" transform="rotate(-30 875.0 938.0)" fill="#000" stroke-width="1.2"/>
<line x1="872.0" y1="936.0" x2="874.0" y2="942.0" stroke="#fff" stroke-width="1.3"/>
<line x1="875.5" y1="934.0" x2="877.5" y2="940.0" stroke="#fff" stroke-width="1.3"/>
<rect x="881.5" y="927.5" width="10" height="11" rx="1" transform="rotate(-30 886.5 933.0)" fill="#fff" stroke-width="2"/>
<line x1="878.8" y1="929.2" x2="875.3" y2="920" stroke-width="2.0"/>
<line x1="875.3" y1="920" x2="870" y2="902.4" stroke-width="2.0"/>
<line x1="869" y1="943" x2="824.2" y2="968.5" stroke-width="2.0"/>
<polygon points="819,971.5 831.6,961.2 834.2,965.9" fill="#000" stroke-width="0.8" />
<line x1="709.5" y1="977" x2="715.8" y2="1004.7" stroke-width="2.0"/>
<rect x="548.5" y="960.5" width="8" height="6" rx="2.5" fill="#fff" stroke-width="1.5"/>
<path d="M549,963 h7" fill="none" stroke-width="1.2" />
<polygon points="545.5,971 548.5,966.5 557,966.5 560,971 559,981 546.5,981" fill="#fff" stroke-width="1.7" />
<line x1="552.5" y1="966.5" x2="552.5" y2="981" stroke-width="1.6"/>
<rect x="570.5" y="944.5" width="8.5" height="12" rx="3.5" fill="#fff" stroke-width="1.5"/>
<path d="M571,948.5 h8 M571,952 h8" fill="none" stroke-width="1.2" />
<polygon points="568.5,960 571,956 580,956 582.5,960 582,967 569,967" fill="#fff" stroke-width="1.7" />
<line x1="575.5" y1="956" x2="575.5" y2="967" stroke-width="1.5"/>
<polyline points="552.3,955 552.3,944 559.5,938.4" stroke-width="1.4" stroke-dasharray="4 3"/>
<polyline points="575,941 575,930" stroke-width="1.4" stroke-dasharray="4 3"/>
<polyline points="567.2,933.6 574.4,930.2" stroke-width="1.3" stroke-dasharray="4 3"/>
<line x1="563.3" y1="936.5" x2="563.3" y2="922" stroke-width="1.8"/>
<polygon points="563.3,905.3 565.5,917 566.8,924 559.8,924 561.1,917" fill="#000" stroke-width="1" />
<path d="M549,995 L534,995.5 C531.5,996 531.5,1006 534,1006 L549,1005.5" fill="#fff" stroke-width="1.6" />
<rect x="560" y="992.5" width="11" height="4.5" fill="#000" stroke-width="1"/>
<rect x="558.5" y="1008" width="10" height="5" fill="#000" stroke-width="1"/>
<polyline points="556,982.7 564.7,987.5 564.7,994.7" stroke-width="1.3" />
<line x1="511" y1="1001" x2="532" y2="1001" stroke-width="2.0"/>
<polyline points="564.7,1016 564.7,1038" stroke-width="1.6" stroke-dasharray="5 3"/>
<polyline points="564.7,1054 564.7,1060" stroke-width="1.6" stroke-dasharray="5 3"/>
<polygon points="519,930 521.5,925 528.5,925 531,930 528.5,935 521.5,935" fill="#fff" stroke-width="1.8" />
<line x1="519.5" y1="930" x2="530.5" y2="930" stroke-width="2"/>
<rect x="521.5" y="935" width="7" height="15" fill="#fff" stroke-width="1.5"/>
<path d="M522,939 h6 M522,942.5 h6 M522,946 h6" fill="none" stroke-width="1.2" />
<line x1="488.7" y1="938.6" x2="520" y2="942" stroke-width="2.0"/>
<polyline points="525,957 525,962 540,972" stroke-width="1.3" stroke-dasharray="4 3"/>
<rect x="517.0" y="1054.9" width="18.2" height="6.0" rx="2.7" transform="rotate(30.0 526.2 1057.9)" fill="#fff" stroke-width="1.7"/>
<line x1="521.3" y1="1058.2" x2="526.0" y2="1054.8" stroke-width="1.3"/>
<line x1="524.3" y1="1060.0" x2="529.1" y2="1056.5" stroke-width="1.3"/>
<line x1="527.3" y1="1061.7" x2="532.1" y2="1058.3" stroke-width="1.3"/>
<polygon points="518.8,1057.5 511.2,1057.5 507.5,1051.5 511.2,1045.5 518.8,1045.5 522.5,1051.5" fill="#fff" stroke-width="2.0" />
<circle cx="515" cy="1051.5" r="3.6" fill="none" stroke-width="1.6"/>
<line x1="495.8" y1="1075.3" x2="511.6" y2="1060.2" stroke-width="2.0"/>
<line x1="536" y1="1063.8" x2="547.6" y2="1069.5" stroke-width="1.3"/>
<path d="M553,1066 C552,1062 556,1061 560,1061.5 L568.5,1065 L587,1076.5 C590,1078.5 591,1081 591,1084 L590.8,1097 L580.5,1101 L580.7,1090 C580.5,1087 578.5,1084.5 575,1082.5 L556,1072.5 C553.5,1071 552.5,1069 553,1066 Z" fill="#fff" stroke-width="2" />
<line x1="559" y1="1071" x2="577" y2="1080.5" stroke-width="2.6"/>
<line x1="552.5" y1="1074" x2="575" y2="1086" stroke-width="1.3"/>
<ellipse cx="564.9" cy="1068.5" rx="3.6" ry="2.6" transform="rotate(0 564.9 1068.5)" fill="none" stroke-width="1.6"/>
<ellipse cx="585.7" cy="1092.6" rx="1.9" ry="2.7" transform="rotate(20 585.7 1092.6)" fill="none" stroke-width="1.5"/>
<line x1="592.2" y1="1085.4" x2="627.5" y2="1095.5" stroke-width="2.0"/>
<line x1="530" y1="967" x2="538.4" y2="972" stroke-width="2.0"/>
<text transform="translate(162.6 502.1) scale(0.3558 0.4091)" font-family="Liberation Sans" font-size="100" fill="#000" stroke="none">a</text>
<text transform="translate(266.7 660.6) scale(0.3326 0.3616)" font-family="Liberation Sans" font-size="100" fill="#000" stroke="none">b</text>
<text transform="translate(462.2 616.1) scale(0.3705 0.3727)" font-family="Liberation Sans" font-size="100" fill="#000" stroke="none">c</text>
<text transform="translate(632.1 726.5) scale(0.3913 0.3107)" font-family="Liberation Sans" font-size="100" fill="#000" stroke="none">g</text>
<text transform="translate(746.1 755.3) scale(0.3913 0.3699)" font-family="Liberation Sans" font-size="100" fill="#000" stroke="none">d</text>
<text transform="translate(294.6 837.6) scale(0.3423 0.4036)" font-family="Liberation Sans" font-size="100" fill="#000" stroke="none">a</text>
<text transform="translate(331.2 878.2) scale(0.3457 0.3753)" font-family="Liberation Sans" font-size="100" fill="#000" stroke="none">b</text>
<text transform="translate(355.5 870.3) scale(0.3864 0.3945)" font-family="Liberation Sans" font-size="100" fill="#000" stroke="none">c</text>
<text transform="translate(399.6 888.6) scale(0.3625 0.3891)" font-family="Liberation Sans" font-size="100" fill="#000" stroke="none">e</text>
<text transform="translate(400.4 915) scale(0.3913 0.2853)" font-family="Liberation Sans" font-size="100" fill="#000" stroke="none">g</text>
<text transform="translate(346.2 972.7) scale(0.3565 0.3425)" font-family="Liberation Sans" font-size="100" fill="#000" stroke="none">d</text>
<text transform="translate(405.5 973) scale(0.5185 0.3472)" font-family="Liberation Sans" font-size="100" fill="#000" stroke="none">f</text>
<text transform="translate(732.1 862.6) scale(0.3792 0.4182)" font-family="Liberation Sans" font-size="100" fill="#000" stroke="none">e</text>
<text transform="translate(799.3 992.6) scale(0.4889 0.3722)" font-family="Liberation Sans" font-size="100" fill="#000" stroke="none">f</text>
<line x1="295.3" y1="838" x2="259.7" y2="883.3" stroke-width="2.0"/>
<polygon points="256,888 263.8,873.8 268,877.1" fill="#000" stroke-width="0.8" />
<line x1="333.8" y1="881.5" x2="310.6" y2="911.7" stroke-width="2.0"/>
<polygon points="307,916.5 314.6,902.2 318.9,905.4" fill="#000" stroke-width="0.8" />
<line x1="355.4" y1="872.8" x2="310.6" y2="932.2" stroke-width="2.0"/>
<polygon points="307,937 314.5,922.6 318.8,925.8" fill="#000" stroke-width="0.8" />
<line x1="395" y1="889" x2="361.2" y2="908.1" stroke-width="2.0"/>
<polygon points="356,911 368.6,900.8 371.3,905.5" fill="#000" stroke-width="0.8" />
<line x1="396.8" y1="907.4" x2="309.6" y2="957.5" stroke-width="2.0"/>
<polygon points="309.6,957.5 322,948 326,947.5 313,956" fill="#000" stroke-width="1" />
<line x1="346" y1="972" x2="327.7" y2="995.3" stroke-width="2.0"/>
<polygon points="324,1000 331.8,985.8 336,989.1" fill="#000" stroke-width="0.8" />
<line x1="398.6" y1="973" x2="365" y2="990.9" stroke-width="2.0"/>
<polygon points="359.7,993.7 372.6,983.8 375.1,988.6" fill="#000" stroke-width="0.8" />
<text transform="translate(625.5 195) scale(0.1579 0.1970)" font-family="Liberation Mono" font-weight="normal" font-size="100" fill="#000" stroke="#000" stroke-width="3.17">See</text>
<text transform="translate(660.4 195) scale(0.1391 0.1970)" font-family="Liberation Mono" font-weight="normal" font-size="100" fill="#000" stroke="#000" stroke-width="3.59">Fig.</text>
<text transform="translate(694.4 195) scale(0.1485 0.1970)" font-family="Liberation Mono" font-weight="normal" font-size="100" fill="#000" stroke="#000" stroke-width="3.37">3701B</text>
<text transform="translate(333.9 834.2) scale(0.1514 0.1742)" font-family="Liberation Mono" font-weight="normal" font-size="100" fill="#000" stroke="#000" stroke-width="3.30">To</text>
<text transform="translate(357.9 834.2) scale(0.1530 0.1742)" font-family="Liberation Mono" font-weight="normal" font-size="100" fill="#000" stroke="#000" stroke-width="3.27">Front</text>
<text transform="translate(410.7 834.2) scale(0.1498 0.1742)" font-family="Liberation Mono" font-weight="normal" font-size="100" fill="#000" stroke="#000" stroke-width="3.34">Brake</text>
<text transform="translate(507.6 900.5) scale(0.1577 0.1712)" font-family="Liberation Mono" font-weight="normal" font-size="100" fill="#000" stroke="#000" stroke-width="3.17">To</text>
<text transform="translate(532.7 900.5) scale(0.1498 0.1712)" font-family="Liberation Mono" font-weight="normal" font-size="100" fill="#000" stroke="#000" stroke-width="3.34">Rear</text>
<text transform="translate(575.6 900.5) scale(0.1502 0.1712)" font-family="Liberation Mono" font-weight="normal" font-size="100" fill="#000" stroke="#000" stroke-width="3.33">Brake</text></g>
</svg>
</body></html>
